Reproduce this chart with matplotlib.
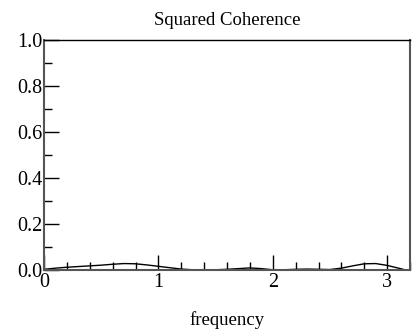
import matplotlib
matplotlib.use("Agg")
import matplotlib.pyplot as plt
from matplotlib.ticker import MultipleLocator

freq = [0.0, 0.1, 0.2, 0.3, 0.4, 0.5, 0.6, 0.7, 0.8, 0.9, 1.0, 1.1, 1.2, 1.3, 1.4, 1.5,
        1.6, 1.7, 1.8, 1.9, 2.0, 2.1, 2.2, 2.3, 2.4, 2.5, 2.6, 2.7, 2.8, 2.9, 3.0, 3.1, 3.14]
coh = [0.003, 0.008, 0.012, 0.015, 0.018, 0.021, 0.025, 0.028, 0.027, 0.022, 0.016, 0.010,
       0.004, 0.001, 0.000, 0.001, 0.003, 0.006, 0.009, 0.006, 0.001, 0.001, 0.003, 0.004,
       0.003, 0.002, 0.008, 0.018, 0.027, 0.028, 0.020, 0.008, 0.003]

plt.rcParams['font.family'] = ['Liberation Serif', 'DejaVu Serif']
fig = plt.figure(figsize=(4.17, 3.29), dpi=100)
ax = fig.add_axes([44/417, 1 - 270/329, (410-44)/417, (270-40)/329])
ax.plot(freq, coh, color='black', lw=1.0)
ax.set_xlim(0, 3.2)
ax.set_ylim(0, 1.0)
ax.xaxis.set_major_locator(MultipleLocator(1))
ax.xaxis.set_minor_locator(MultipleLocator(0.2))
ax.yaxis.set_major_locator(MultipleLocator(0.2))
ax.yaxis.set_minor_locator(MultipleLocator(0.1))
ax.yaxis.set_major_formatter(plt.FuncFormatter(lambda v, p: f"{v:.1f}"))
ax.tick_params(which='both', direction='in', top=False, right=False, labelsize=14.5)
ax.tick_params(axis='y', pad=1)
ax.tick_params(axis='x', pad=2)
ax.tick_params(which='major', length=11, width=1)
ax.tick_params(which='minor', length=6, width=1)
for s in ['left', 'bottom', 'right']:
    ax.spines[s].set_color('#555555')
    ax.spines[s].set_linewidth(1.5)
ax.spines['top'].set_linewidth(1.0)
ax.set_title('Squared Coherence', fontsize=13.5, pad=11)
ax.set_xlabel('frequency', fontsize=13.5, labelpad=14)
fig.savefig('out.png', dpi=100)
